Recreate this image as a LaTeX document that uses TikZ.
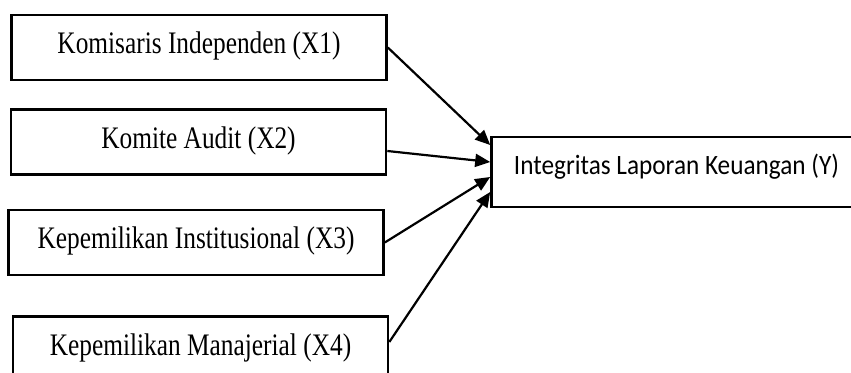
\documentclass[tikz,border=0pt]{standalone}
\usepackage{fontspec}
\usepackage{tikz}
\usetikzlibrary{arrows.meta}
\newfontfamily\timesfont[FakeStretch=0.81]{Liberation Serif}
\newfontfamily\calibrifont{Carlito}
\newcommand{\sempit}[1]{\resizebox{325pt}{\height}{#1}}

\begin{document}
\begin{tikzpicture}[x=1pt,y=1pt]

    \tikzset{variabel/.style = {shape=rectangle,draw,line width=2.6pt,minimum width=375pt,minimum height=65pt,inner sep=0pt,text height=20pt,text depth=7pt,font=\timesfont\fontsize{31.3}{36}\selectfont}}
    \tikzset{terikat/.style = {shape=rectangle,draw,line width=2.6pt,minimum width=370pt,minimum height=70pt,inner sep=0pt,text height=18pt,text depth=12.3pt,font=\calibrifont\fontsize{28}{32}\selectfont}}
    \tikzset{panah/.style = {-{Triangle[length=15pt,width=13pt]},line width=2.2pt}}

    \useasboundingbox (0,0) rectangle (851,372);

    %variabel independen
    \node [variabel] (komisaris) at (199,324.5) {Komisaris Independen (X1)};
    \node [variabel] (komite) at (198.5,230) {Komite Audit (X2)};
    \node [variabel] (institusi) at (196,129.5) {Kepemilikan Institusional (X3)};
    \node [variabel] (manajerial) at (200.5,23) {Kepemilikan Manajerial (X4)};

    %variabel dependen
    \node [terikat] (integritas) at (676.5,200) {\sempit{Integritas Laporan Keuangan (Y)}};

    \draw [panah] (komisaris.east)
        to ([yshift=27pt]integritas.west);
    \draw [panah] ([yshift=-9pt]komite.east)
        to ([yshift=10pt]integritas.west);
    \draw [panah] (institusi.east)
        to ([yshift=-5pt]integritas.west);
    \draw [panah] ([yshift=7pt]manajerial.east)
        to ([yshift=-20pt]integritas.west);

\end{tikzpicture}
\end{document}
